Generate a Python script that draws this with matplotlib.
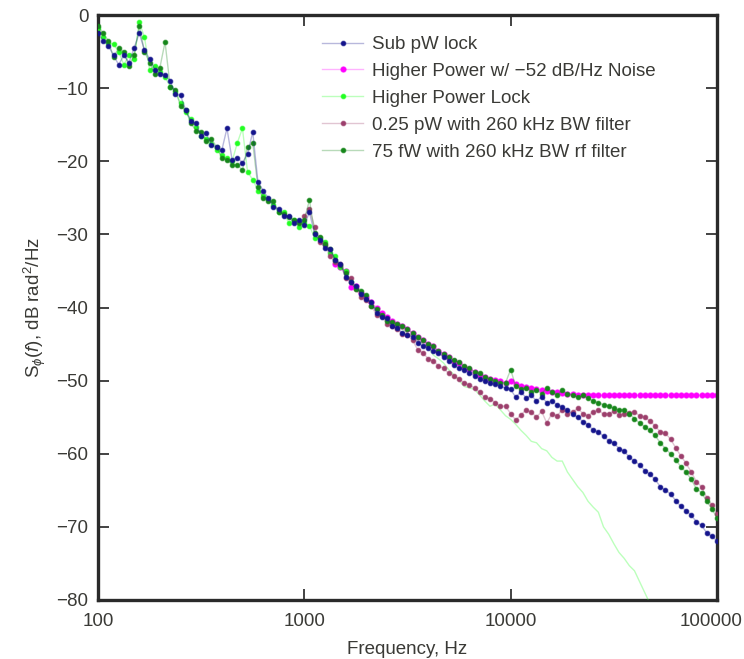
import matplotlib
matplotlib.use("Agg")
import matplotlib.pyplot as plt
import matplotlib.transforms as mtransforms
import numpy as np

plt.rcParams['font.family'] = ['Liberation Sans', 'DejaVu Sans']
plt.rcParams['mathtext.fontset'] = 'custom'
plt.rcParams['mathtext.rm'] = 'Liberation Sans'
plt.rcParams['mathtext.it'] = 'Liberation Sans:italic'

# frequency grid: mantissas of 40 log-spaced points per decade
mantissa = [1.000, 1.059, 1.122, 1.189, 1.259, 1.334, 1.413, 1.496, 1.585, 1.679,
            1.778, 1.884, 1.995, 2.113, 2.239, 2.371, 2.512, 2.661, 2.818, 2.985,
            3.162, 3.350, 3.548, 3.758, 3.981, 4.217, 4.467, 4.732, 5.012, 5.309,
            5.623, 5.957, 6.310, 6.683, 7.079, 7.499, 7.943, 8.414, 8.913, 9.441]
decades = [100, 1000, 10000]
freq = [m * d for d in decades for m in mantissa] + [100000.0]

sub_pw = [-2.5, -3.5, -4.2, -5.5, -6.8, -5.5, -6.5, -4.5, -2.5, -4.8,
          -6.0, -7.5, -8.0, -8.2, -9.0, -10.8, -11.0, -13.0, -14.5, -14.8,
          -16.5, -16.2, -17.8, -18.0, -18.5, -15.5, -19.8, -19.5, -20.2, -19.0,
          -16.0, -22.8, -24.0, -25.0, -26.2, -26.5, -27.5, -27.5, -28.5, -28.0,
          -28.7, -27.0, -30.0, -30.8, -31.9, -32.0, -33.5, -34.0, -35.8, -36.5,
          -37.0, -38.2, -38.8, -39.3, -40.8, -41.3, -41.5, -42.5, -42.8, -43.5,
          -43.8, -44.0, -44.8, -45.3, -45.5, -46.0, -46.2, -46.8, -47.3, -47.9,
          -48.3, -48.5, -49.0, -49.3, -49.8, -50.0, -50.3, -50.5, -50.8, -51.0,
          -51.2, -52.3, -51.5, -52.4, -52.0, -52.8, -52.2, -53.0, -52.8, -53.3,
          -53.6, -54.0, -54.6, -55.0, -55.6, -56.0, -56.8, -57.0, -57.6, -58.2,
          -58.5, -59.3, -59.6, -60.5, -61.0, -61.5, -62.3, -62.8, -63.5, -64.5,
          -65.0, -65.5, -66.4, -67.2, -67.8, -68.4, -69.3, -69.8, -70.8, -71.3,
          -71.9]

hp_noise = [-34.0, -34.5, -35.0, -37.2, -37.0, -38.0, -38.5, -39.3, -40.0, -40.8,
            -41.3, -41.8, -42.2, -42.5, -43.0, -43.5, -44.0, -44.5, -45.0, -45.3,
            -46.0, -46.4, -46.8, -47.3, -47.6, -48.1, -48.4, -48.8, -49.2, -49.5,
            -49.8, -49.9, -50.1, -50.3, -50.0, -50.5, -50.7, -50.9, -51.0, -51.2,
            -51.3, -51.4, -51.5, -51.6, -51.7, -51.8, -51.8, -51.9, -51.9, -52.0,
            -52.0, -52.0, -52.0, -52.0, -52.0, -52.0, -52.0, -52.0, -52.0, -52.0,
            -52.0, -52.0, -52.0, -52.0, -52.0, -52.0, -52.0, -52.0, -52.0, -52.0,
            -52.0, -52.0, -52.0, -52.0, -52.0]
hp_noise_start = 46

hp_lock = [-1.8, -3.0, -3.8, -4.0, -5.0, -6.8, -5.5, -6.0, -1.0, -3.0,
           -7.5, -7.0, -7.8, -8.5, -9.8, -10.5, -12.0, -13.3, -14.2, -15.3,
           -16.5, -17.0, -17.6, -18.5, -19.2, -19.6, -20.0, -17.5, -15.5, -21.5,
           -22.5, -24.0, -24.8, -25.2, -26.0, -27.0, -27.0, -28.5, -28.0, -29.0,
           -28.5, -28.8, -30.5, -30.5, -31.0, -32.5, -33.0, -34.5, -35.0, -36.5,
           -37.5, -37.5, -38.8, -39.5, -40.3, -41.2, -41.8, -42.0, -42.6, -43.0,
           -43.5, -44.0, -44.5, -45.0, -45.5, -46.5, -47.0, -47.6, -48.5, -49.2,
           -50.0, -50.8, -51.0, -51.2, -52.0, -52.8, -53.5, -53.2, -54.0, -54.8,
           -55.3, -56.0, -56.8, -57.5, -58.3, -58.5, -59.3, -59.6, -60.5, -61.0,
           -61.0, -62.5, -63.5, -64.5, -65.3, -66.5, -67.3, -68.0, -70.0, -71.0,
           -72.3, -73.5, -74.3, -75.3, -76.0, -77.5, -79.0, -80.5]
hp_lock_marked = 49

pw025 = [-27.5, -26.5, -29.0, -31.0, -31.5, -33.0, -33.8, -34.0, -36.0, -36.0,
         -37.5, -38.5, -39.0, -39.8, -41.0, -41.2, -42.2, -42.5, -43.0, -43.6,
         -43.8, -44.5, -45.8, -46.2, -47.0, -47.3, -48.0, -48.3, -49.0, -49.3,
         -49.8, -50.3, -50.6, -51.0, -51.6, -52.3, -52.5, -53.0, -53.5, -53.5,
         -54.5, -55.4, -54.7, -54.0, -54.3, -55.0, -54.2, -55.8, -54.5, -54.8,
         -54.0, -54.5, -54.3, -53.8, -54.5, -54.8, -54.3, -54.0, -54.6, -54.5,
         -54.2, -54.7, -54.5, -54.4, -54.3, -54.8, -55.0, -55.5, -56.2, -57.0,
         -57.2, -58.0, -59.2, -60.3, -61.3, -62.5, -63.8, -64.5, -66.0, -67.0,
         -68.3]
pw025_start = 40

fw75 = [-1.5, -2.5, -3.5, -5.8, -4.5, -5.0, -7.0, -5.5, -1.5, -5.0,
        -6.5, -8.0, -7.2, -3.7, -9.8, -10.2, -12.5, -13.0, -14.8, -15.8,
        -16.0, -17.2, -17.0, -18.0, -19.5, -19.8, -20.5, -20.5, -21.2, -18.0,
        -17.5, -23.5, -25.0, -25.5, -25.5, -27.0, -27.2, -27.6, -28.0, -28.5,
        -28.0, -25.3, -29.8, -30.3, -31.3, -32.0, -33.5, -34.2, -35.3, -36.5,
        -37.5, -37.8, -38.3, -39.8, -40.2, -41.0, -41.8, -42.0, -42.2, -42.5,
        -43.0, -43.5, -44.0, -44.5, -45.0, -45.3, -46.0, -46.3, -46.8, -47.2,
        -47.5, -48.0, -48.3, -48.8, -49.0, -49.5, -49.8, -50.0, -50.3, -50.3,
        -48.5, -50.8, -51.2, -51.0, -51.5, -51.3, -51.8, -51.0, -51.5, -52.0,
        -51.3, -51.8, -52.0, -52.3, -52.0, -52.4, -52.8, -53.0, -53.3, -53.5,
        -53.8, -54.0, -54.0, -54.5, -55.2, -55.8, -56.3, -56.8, -57.5, -58.5,
        -59.3, -60.0, -60.8, -61.8, -62.5, -63.5, -64.8, -65.3, -66.5, -67.5,
        -68.8]

labels = ["Sub pW lock", "Higher Power w/ \u221252 dB/Hz Noise", "Higher Power Lock",
          "0.25 pW with 260 kHz BW filter", "75 fW with 260 kHz BW rf filter"]
colors = ["#14148c", "#ff00ff", "#22ff22", "#9c3f6c", "#16861a"]

xticks = [100, 1000, 10000, 100000]
yticks = [0, -10, -20, -30, -40, -50, -60, -70, -80]

fig = plt.figure(figsize=(7.44, 6.59), dpi=100)
ax = fig.add_axes([98 / 744, 1 - 600 / 659, 619 / 744, 585 / 659])

def rgba(c, a):
    r, g, b = matplotlib.colors.to_rgb(c)
    return (r, g, b, a)

def series(x, y, c, label, z, markevery=None, ms=3.4):
    ax.plot(x, y, '-', color=rgba(c, 0.3), lw=1.0, marker='o', markersize=ms,
            markerfacecolor=c, markeredgecolor=rgba(c, 0.55), markeredgewidth=0.8,
            label=label, zorder=z, markevery=markevery)

series(freq[hp_noise_start:hp_noise_start + len(hp_noise)], hp_noise, colors[1], labels[1], 2, ms=3.9)
series(freq[:len(hp_lock)], hp_lock, colors[2], labels[2], 3, markevery=slice(0, hp_lock_marked))
series(freq[pw025_start:pw025_start + len(pw025)], pw025, colors[3], labels[3], 4)
series(freq[:len(fw75)], fw75, colors[4], labels[4], 5)
series(freq[:len(sub_pw)], sub_pw, colors[0], labels[0], 6)

ax.set_xscale('log')
ax.set_xlim(100, 100000)
ax.set_ylim(-80, 0)
ax.set_xticks(xticks)
ax.set_xticklabels([str(t) for t in xticks])
ax.minorticks_off()
ax.set_yticks(yticks)
ax.set_yticklabels(["0"] + ["\u2212%d" % (-t) for t in yticks[1:]])

tc = '#3a3a36'
ax.tick_params(axis='both', which='major', direction='in', length=8, width=1.2,
               color='#222222', labelsize=13.5, labelcolor=tc, top=True, right=True)
ax.tick_params(axis='x', pad=9)
ax.tick_params(axis='y', pad=7)
for s in ax.spines.values():
    s.set_linewidth(2.4)
    s.set_color('#2a2a2a')

# keep the last x tick label inside the figure
last = ax.get_xticklabels()[-1]
last.set_transform(last.get_transform() + mtransforms.ScaledTranslation(-6 / 100, 0, fig.dpi_scale_trans))

ax.set_xlabel("Frequency, Hz", fontsize=13.5, color=tc, labelpad=8)
ax.set_ylabel(r"S$_\phi$($\it{f}$), dB rad$^2$/Hz", fontsize=13.5, color=tc, labelpad=6)

handles, labs = ax.get_legend_handles_labels()
order = [labs.index(l) for l in labels]
leg = ax.legend([handles[i] for i in order], [labs[i] for i in order],
                loc='upper left', bbox_to_anchor=(322 / 744, 1 - 36 / 659),
                bbox_transform=fig.transFigure, frameon=False, fontsize=13.5,
                handlelength=2.2, handletextpad=0.45, labelspacing=0.52,
                borderpad=0, borderaxespad=0)
for t in leg.get_texts():
    t.set_color(tc)

fig.savefig("out.png", dpi=100)
